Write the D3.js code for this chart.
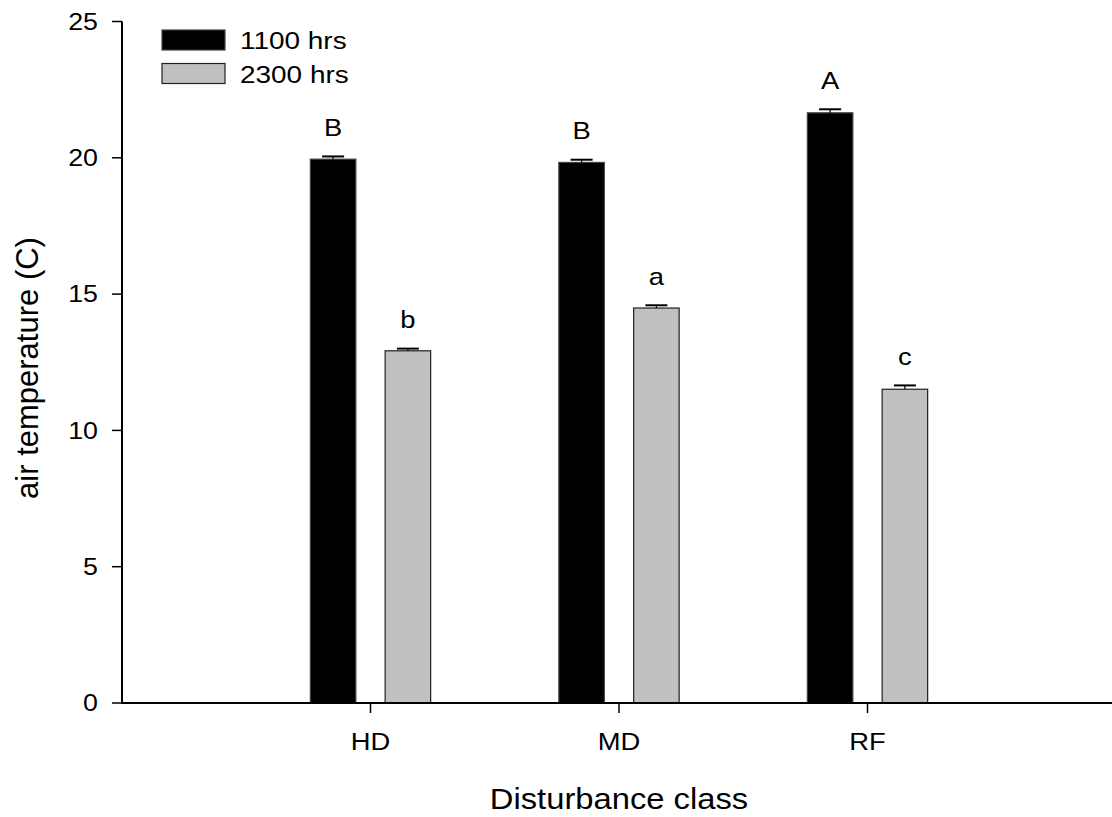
<!DOCTYPE html>
<html>
<head>
<meta charset="utf-8">
<script src="https://cdn.jsdelivr.net/npm/d3@7"></script>
<style>
  html, body { margin: 0; padding: 0; background: #fff; }
  svg { display: block; }
  text { font-family: "Liberation Sans", Arial, Helvetica, sans-serif; fill: #000; }
</style>
</head>
<body>
<svg id="chart" width="1112" height="817"></svg>
<script>
// Disturbance classes on the x axis
const categories = ["HD", "MD", "RF"];
// Mean air temperature (C) and standard error at each sampling time
const series = ["1100 hrs", "2300 hrs"];
const temp1100 = [19.95, 19.83, 21.65];
const se1100 = [0.10, 0.10, 0.13];
const temp2300 = [12.92, 14.49, 11.51];
const se2300 = [0.08, 0.10, 0.14];
// Significance letters above each bar
const letters1100 = ["B", "B", "A"];
const letters2300 = ["b", "a", "c"];
// Y axis ticks
const yTicks = [0, 5, 10, 15, 20, 25];

const svg = d3.select("#chart");
const SX = 1.14;                 // horizontal text stretch
const fills = ["#000000", "#c0c0c0"];
const strokes = ["#404040", "#202020"];

const x = d3.scaleLinear().domain([0, categories.length + 1]).range([122, 1116]);
const y = d3.scaleLinear().domain([0, 25]).range([703, 21.5]);

const barW = 45.5;
const offsets = [-37.4, 37.4];

// bars
const groups = [
  { vals: temp1100, se: se1100, letters: letters1100 },
  { vals: temp2300, se: se2300, letters: letters2300 }
];

groups.forEach((g, si) => {
  const data = categories.map((c, i) => ({ c, i, v: g.vals[i], se: g.se[i], l: g.letters[i] }));
  const cx = d => x(d.i + 1) + offsets[si];

  svg.append("g").selectAll("rect").data(data).join("rect")
    .attr("x", d => cx(d) - barW / 2)
    .attr("y", d => y(d.v))
    .attr("width", barW)
    .attr("height", d => y(0) - y(d.v))
    .attr("fill", fills[si])
    .attr("stroke", strokes[si])
    .attr("stroke-width", 1.2);

  // error bars (upper half only)
  const eb = svg.append("g").attr("stroke", "#000");
  eb.selectAll("line.stem").data(data).join("line")
    .attr("class", "stem")
    .attr("x1", cx).attr("x2", cx)
    .attr("y1", d => y(d.v)).attr("y2", d => y(d.v + d.se))
    .attr("stroke-width", 1.2);
  eb.selectAll("line.cap").data(data).join("line")
    .attr("class", "cap")
    .attr("x1", d => cx(d) - 11).attr("x2", d => cx(d) + 11)
    .attr("y1", d => y(d.v + d.se)).attr("y2", d => y(d.v + d.se))
    .attr("stroke-width", 2);

  svg.append("g").selectAll("text").data(data).join("text")
    .attr("transform", d => `translate(${cx(d)},${y(d.v + d.se) - 20.5}) scale(${SX},1)`)
    .attr("text-anchor", "middle")
    .style("font-size", "24px")
    .text(d => d.l);
});

// y axis
const yAxis = svg.append("g");
yAxis.append("line")
  .attr("x1", x(0)).attr("x2", x(0))
  .attr("y1", y(0) + 1).attr("y2", y(25))
  .attr("stroke", "#000").attr("stroke-width", 2);
yAxis.selectAll("line.tick").data(yTicks).join("line")
  .attr("class", "tick")
  .attr("x1", x(0) - 10).attr("x2", x(0))
  .attr("y1", d => y(d)).attr("y2", d => y(d))
  .attr("stroke", "#000").attr("stroke-width", 1.5);
yAxis.selectAll("text").data(yTicks).join("text")
  .attr("transform", d => `translate(98,${y(d)}) scale(${SX},1)`)
  .attr("text-anchor", "end")
  .attr("dy", "0.35em")
  .style("font-size", "23.5px")
  .text(d => d);

// x axis
const xAxis = svg.append("g");
xAxis.append("line")
  .attr("x1", x(0) - 1).attr("x2", x(categories.length + 1))
  .attr("y1", y(0)).attr("y2", y(0))
  .attr("stroke", "#000").attr("stroke-width", 2);
xAxis.selectAll("line.tick").data(categories).join("line")
  .attr("class", "tick")
  .attr("x1", (d, i) => x(i + 1)).attr("x2", (d, i) => x(i + 1))
  .attr("y1", y(0)).attr("y2", y(0) + 10)
  .attr("stroke", "#000").attr("stroke-width", 1.5);
xAxis.selectAll("text").data(categories).join("text")
  .attr("transform", (d, i) => `translate(${x(i + 1)},750) scale(${SX},1)`)
  .attr("text-anchor", "middle")
  .style("font-size", "24px")
  .text(d => d);

// axis titles
svg.append("text")
  .attr("transform", `translate(619,809) scale(1.11,1)`)
  .attr("text-anchor", "middle")
  .style("font-size", "29.5px")
  .text("Disturbance class");

svg.append("text")
  .attr("transform", `translate(38,368) rotate(-90)`)
  .attr("text-anchor", "middle")
  .style("font-size", "31px")
  .text("air temperature (C)");

// legend
const legend = svg.append("g");
series.forEach((s, i) => {
  legend.append("rect")
    .attr("x", 162).attr("y", 30 + i * 33.5)
    .attr("width", 63).attr("height", 20)
    .attr("fill", fills[i])
    .attr("stroke", strokes[i]).attr("stroke-width", 1.2);
  legend.append("text")
    .attr("transform", `translate(240,${49 + i * 34}) scale(${SX},1)`)
    .style("font-size", "24.5px")
    .text(s);
});
</script>
</body>
</html>
